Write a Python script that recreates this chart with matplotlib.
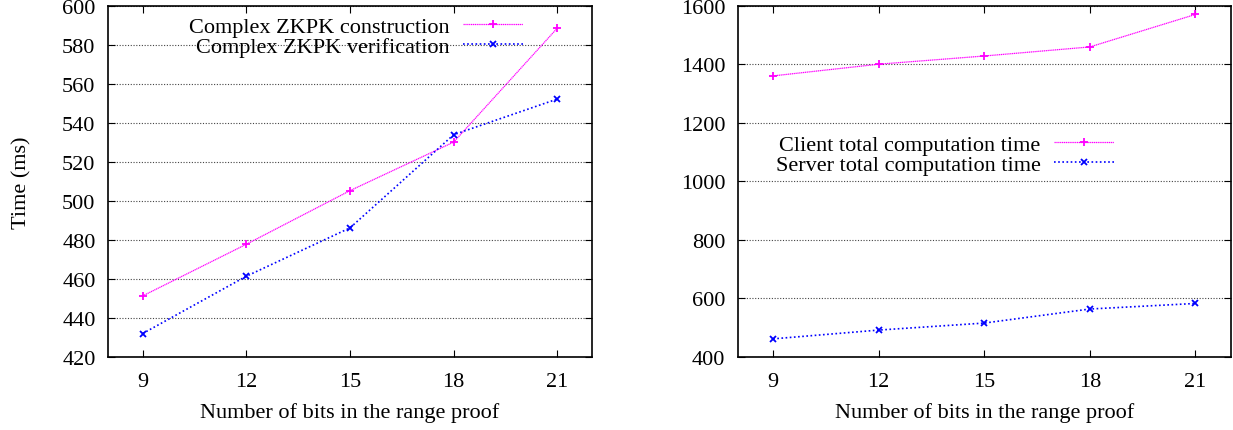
import numpy as np
import matplotlib
matplotlib.use('Agg')
import matplotlib.pyplot as plt

plt.rcParams['font.family'] = ['Liberation Serif', 'DejaVu Serif']
plt.rcParams['font.size'] = 16

bits = [9, 12, 15, 18, 21]
zkpk_construction = [451.3, 477.8, 505.3, 530.2, 588.7]
zkpk_verification = [432.0, 461.4, 486.2, 534.0, 552.3]
client_total = [1361, 1401, 1429, 1460, 1571]
server_total = [462, 492, 516, 564, 583]

fig = plt.figure(figsize=(12.33, 4.31), dpi=100)
ax1 = fig.add_axes([0.0876, 0.1694, 0.3925, 0.8144])
ax2 = fig.add_axes([0.5985, 0.1694, 0.3995, 0.8144])

def style(ax, ylim, yticks):
    ax.set_xlim(8, 22)
    ax.set_ylim(*ylim)
    ax.set_xticks(bits)
    ax.set_yticks(yticks)
    ax.tick_params(direction='in', length=5, top=True, right=True)
    ax.tick_params(axis='x', pad=11)
    ax.tick_params(axis='y', pad=9)
    ax.yaxis.grid(True, linestyle=(0, (1, 1.5)), color='#444444', linewidth=0.8)
    ax.set_axisbelow(True)
    for s in ax.spines.values():
        s.set_linewidth(1.2)
    ax.set_xlabel('Number of bits in the range proof', labelpad=8)

legend_kw = dict(loc='upper right', frameon=False, markerfirst=False, handlelength=2.7,
                 handletextpad=0.6, labelspacing=0.0, borderaxespad=0, borderpad=0)

ax1.plot(bits, zkpk_construction, color='#ff00ff', linestyle=(0, (1, 0.5)), linewidth=0.9,
         marker='+', markersize=6, markeredgewidth=1.3, label='Complex ZKPK construction')
ax1.plot(bits, zkpk_verification, color='#0000ff', linestyle=(0, (1, 1.5)), linewidth=1.2,
         marker='x', markersize=5, markeredgewidth=1.3, label='Complex ZKPK verification')
style(ax1, (420, 600), np.arange(420, 601, 20))
ax1.set_ylabel('Time (ms)', labelpad=22)
ax1.legend(bbox_to_anchor=(0.857, 0.971), **legend_kw)

ax2.plot(bits, client_total, color='#ff00ff', linestyle=(0, (1, 0.5)), linewidth=0.9,
         marker='+', markersize=6, markeredgewidth=1.3, label='Client total computation time')
ax2.plot(bits, server_total, color='#0000ff', linestyle=(0, (1, 1.5)), linewidth=1.2,
         marker='x', markersize=5, markeredgewidth=1.3, label='Server total computation time')
style(ax2, (400, 1600), np.arange(400, 1601, 200))
ax2.legend(bbox_to_anchor=(0.763, 0.635), **legend_kw)

fig.savefig('out.png', dpi=100)
